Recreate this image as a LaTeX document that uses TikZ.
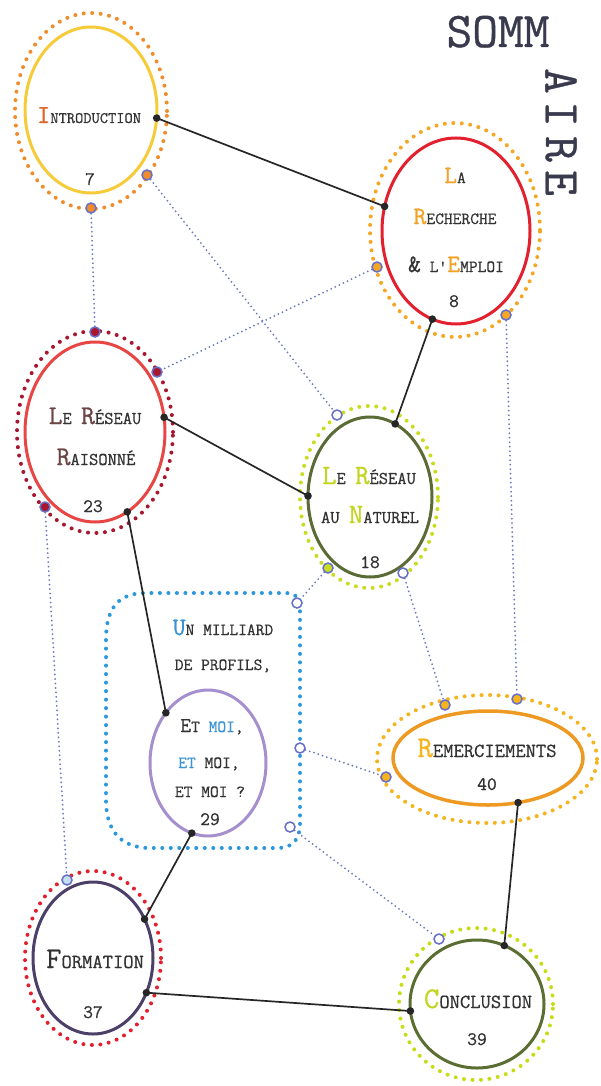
\documentclass[tikz,border=0pt]{standalone}
\usepackage{fontspec}
\setmonofont{Latin Modern Mono}[FakeBold=0.7]
\usetikzlibrary{shapes.geometric}
\definecolor{txtc}{HTML}{333333}
\definecolor{somc}{HTML}{3A3A4E}
\definecolor{introc}{HTML}{F5CB3A}
\definecolor{introd}{HTML}{F08C2A}
\definecolor{introI}{HTML}{E0662A}
\definecolor{rechc}{HTML}{E3202E}
\definecolor{rechd}{HTML}{F5A623}
\definecolor{orng}{HTML}{F2A227}
\definecolor{raisc}{HTML}{E84545}
\definecolor{raisd}{HTML}{A8162F}
\definecolor{rais}{HTML}{6B4444}
\definecolor{natc}{HTML}{5B6B35}
\definecolor{natd}{HTML}{C9DC1E}
\definecolor{lime}{HTML}{C3D522}
\definecolor{boxd}{HTML}{2B98DE}
\definecolor{blu}{HTML}{3B93D3}
\definecolor{milc}{HTML}{A58FCC}
\definecolor{remc}{HTML}{EE9A22}
\definecolor{remd}{HTML}{F5B31C}
\definecolor{gold}{HTML}{F6B41E}
\definecolor{forc}{HTML}{4D4068}
\definecolor{ford}{HTML}{E41F2D}
\definecolor{conc}{HTML}{5A6E32}
\definecolor{cond}{HTML}{C6DC14}
\definecolor{markc}{HTML}{6670C8}
\definecolor{linec}{HTML}{6B78C0}
\def\smsz{17pt}\def\bigsz{27pt}
\newcommand{\Bg}[2][txtc]{{\fontsize{\bigsz}{\bigsz}\selectfont\color{#1}#2}}
\newcommand{\Sm}[1]{{\fontsize{\smsz}{\smsz}\selectfont #1}}
\begin{document}
\begin{tikzpicture}[x=1pt,y=-1pt,
  inner/.style={ellipse, outer sep=0pt, inner sep=0pt, line width=3pt},
  dotring/.style={line width=4pt, line cap=round, dash pattern=on 0pt off 8.5pt},
  mk/.style={circle, draw=markc, line width=1.5pt, minimum size=10pt, inner sep=0pt},
  dotline/.style={draw=linec, line width=2pt, line cap=round, dash pattern=on 0pt off 4.5pt},
  link/.style={draw=black!85, line width=1.7pt},
  bk/.style={fill=black!85},
  lbl/.style={font=\ttfamily, text=txtc, anchor=base, inner sep=0pt},
  sz/.style n args={2}{font={\ttfamily\def\smsz{#1pt}\def\bigsz{#2pt}}},
  num/.style={font=\ttfamily\fontsize{19pt}{19pt}\selectfont, text=txtc, anchor=base, inner sep=0pt},
  ttl/.style={font=\ttfamily\fontsize{50pt}{50pt}\selectfont, text=somc, inner sep=0pt}
]
\useasboundingbox (0,0) rectangle (600,1086);
\fill[white] (0,0) rectangle (600,1086);

% outer dotted rings
\draw[dotring, introd] (91,111) ellipse [x radius=76pt, y radius=98pt];
\draw[dotring, rechd] (455,230) ellipse [x radius=85pt, y radius=107pt];
\draw[dotring, raisd] (95,432) ellipse [x radius=78pt, y radius=101pt];
\draw[dotring, natd] (369,497) ellipse [x radius=69pt, y radius=91pt];
\draw[dotring, remd] (487,759) ellipse [x radius=110pt, y radius=64pt];
\draw[dotring, ford] (93,958) ellipse [x radius=68pt, y radius=87pt];
\draw[dotring, cond] (476,1004) ellipse [x radius=77pt, y radius=76pt];

% blue dotted box
\draw[dotring, boxd] (106,640) .. controls (106,606) and (120,593) .. (146,593) -- (286,593)
  .. controls (295,593) and (300,598) .. (300,607) -- (300,824)
  .. controls (300,840) and (292,848) .. (278,848) -- (150,848)
  .. controls (122,848) and (106,832) .. (106,800) -- cycle;

% inner ellipses
\node[inner, draw=introc, minimum width=132pt, minimum height=166pt] (intro) at (91,110) {};
\node[inner, draw=rechc, minimum width=148pt, minimum height=186pt] (rech) at (456,231) {};
\node[inner, draw=raisc, minimum width=140pt, minimum height=180pt] (rais) at (95,432) {};
\node[inner, draw=natc, minimum width=124pt, minimum height=160pt] (nat) at (370,497) {};
\node[inner, draw=milc, minimum width=116pt, minimum height=146pt] (mil) at (208,763) {};
\node[inner, draw=remc, line width=3.5pt, minimum width=190pt, minimum height=94pt] (rem) at (488,758) {};
\node[inner, draw=forc, minimum width=120pt, minimum height=152pt] (form) at (93,958) {};
\node[inner, draw=conc, minimum width=134pt, minimum height=128pt] (concl) at (477,1004) {};

% markers
\node[mk, fill=introd] (mI1) at (91,208) {};
\node[mk, fill=introd] (mI2) at (147,175) {};
\node[mk, fill=rechd] (mR1) at (377,267) {};
\node[mk, fill=rechd] (mR2) at (506,315) {};
\node[mk, fill=raisd] (mRR1) at (95,332) {};
\node[mk, fill=raisd] (mRR2) at (157,372) {};
\node[mk, fill=raisd] (mRR3) at (45,507) {};
\node[mk, fill=white] (mN1) at (337,415) {};
\node[mk, fill=natd] (mN2) at (328,568) {};
\node[mk, fill=white] (mN3) at (403,573) {};
\node[mk, fill=white] (mB1) at (297,603) {};
\node[mk, fill=white] (mB2) at (300,748) {};
\node[mk, fill=white] (mB3) at (290,827) {};
\node[mk, fill=remd] (mM1) at (445,705) {};
\node[mk, fill=remd] (mM2) at (517,699) {};
\node[mk, fill=remd] (mM3) at (386,777) {};
\node[mk, fill=blu!30] (mF) at (67,880) {};
\node[mk, fill=white] (mC) at (439,939) {};

% dotted connectors
\draw[dotline] (mI1) -- (mRR1);
\draw[dotline] (mI2) -- (mN1);
\draw[dotline] (mR1) -- (mRR2);
\draw[dotline] (mR2) -- (mM2);
\draw[dotline] (mRR3) -- (mF);
\draw[dotline] (mN2) -- (mB1);
\draw[dotline] (mN3) -- (mM1);
\draw[dotline] (mB2) -- (mM3);
\draw[dotline] (mB3) -- (mC);

% solid connectors
\draw[link] (intro.-7) -- (rech.161);
\draw[link] (rech.-105) -- (nat.71);
\draw[link] (rais.12.6) -- (nat.179);
\draw[link] (rais.-68.5) -- (mil.130);
\draw[link] (mil.-103) -- (form.37);
\draw[link] (form.-33) -- (concl.186);
\draw[link] (rem.-56) -- (concl.65);
\foreach \p in {intro.-7, rech.161, rech.-105, nat.71, rais.12.6, nat.179, rais.-68.5, mil.130, mil.-103, form.37, form.-33, concl.186, rem.-56, concl.65}
  \fill[bk] (\p) circle (3.8pt);

% title
\node[ttl, anchor=base] (somm) at (498,47) {SOMM};
\node[ttl, rotate=-90] (sA) at (561,81) {A};
\node[ttl, rotate=-90] (sI) at (561,114) {I};
\node[ttl, rotate=-90] (sR) at (561,149) {R};
\node[ttl, rotate=-90] (sE) at (561,183) {E};

% texts
\node[lbl, sz={16}{26}] (tIntro) at (89,123) {\Bg[introI]{I}\Sm{NTRODUCTION}};
\node[num] (nIntro) at (90,185) {7};

\node[lbl, sz={17}{25}] (tR1) at (455,183) {\Bg[orng]{L}\Sm{A}};
\node[lbl, sz={17}{25}] (tR2) at (455,224) {\Bg[orng]{R}\Sm{ECHERCHE}};
\node[lbl, sz={17}{25}] (tR3) at (456,272) {\Bg{\&}\Sm{~L'}\Bg[orng]{E}\Sm{MPLOI}};
\node[num] (nR) at (454,307) {8};

\node[lbl, sz={18}{27}] (tRR1) at (95,424) {\Bg[rais]{L}\Sm{E~}\Bg[rais]{R}\Sm{ÉSEAU}};
\node[lbl, sz={18}{27}] (tRR2) at (96,465) {\Bg[rais]{R}\Sm{AISONNÉ}};
\node[num] (nRR) at (93,512) {23};

\node[lbl, sz={18}{28}] (tN1) at (369,484) {\Bg[lime]{L}\Sm{E~}\Bg[lime]{R}\Sm{ÉSEAU}};
\node[lbl, sz={18}{28}] (tN2) at (370,523) {\Sm{AU~}\Bg[lime]{N}\Sm{ATUREL}};
\node[num] (nN) at (370,568) {18};

\node[lbl, sz={17}{25}] (tM1) at (223,635) {\Bg[blu]{U}\Sm{N~MILLIARD}};
\node[lbl, sz={17}{25}] (tM2) at (223,670) {\Sm{DE~PROFILS,}};
\node[lbl, sz={17}{21}] (tM3) at (212,732) {\Bg{E}\Sm{T~\textcolor{blu}{MOI},}};
\node[lbl, sz={17}{21}] (tM4) at (209,768) {\Sm{\textcolor{blu}{ET}~MOI,}};
\node[lbl, sz={17}{21}] (tM5) at (210,797) {\Sm{ET~MOI~?}};
\node[num] (nM) at (210,825) {29};

\node[lbl, sz={20}{30}] (tRem) at (487,757) {\Bg[gold]{R}\Sm{EMERCIEMENTS}};
\node[num] (nRem) at (487,790) {40};

\node[lbl, sz={20}{30}] (tF) at (95,968) {\Bg{F}\Sm{ORMATION}};
\node[num] (nF) at (93,1018) {37};

\node[lbl, sz={20}{30}] (tC) at (478,1008) {\Bg[lime]{C}\Sm{ONCLUSION}};
\node[num] (nC) at (477,1045) {39};
\end{tikzpicture}
\end{document}
